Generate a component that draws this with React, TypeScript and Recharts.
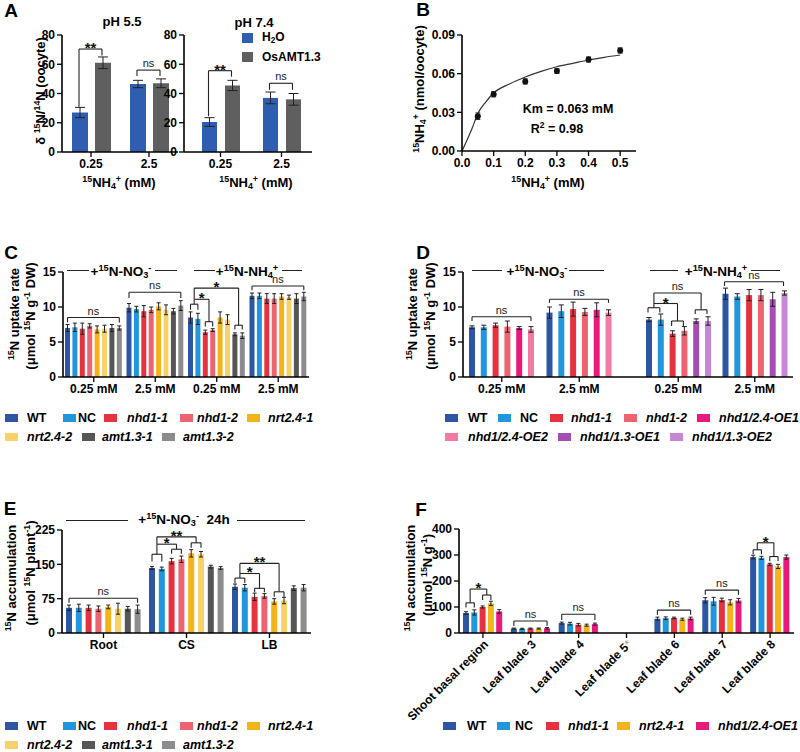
import React from 'react';
import { BarChart, Bar, XAxis, YAxis, ErrorBar, ReferenceLine, ComposedChart, Line, Scatter } from 'recharts';

const FONT = '"Liberation Sans", Arial, Helvetica, sans-serif';

// ---------------- Data ----------------
// Panel A
const aCategories = ['0.25', '2.5'];
const aSeries = ['H2O', 'OsAMT1.3'];
const aMeans55 = [[27, 46.5], [61, 47]];
const aErrs55 = [[3.5, 2.5], [4, 3]];
const aMeans74 = [[20.5, 37], [45.5, 36]];
const aErrs74 = [[3, 4], [3.5, 4]];
const aYTicks = [0, 20, 40, 60, 80];

// Panel B
const bConc = [0.05, 0.1, 0.2, 0.3, 0.4, 0.5];
const bUptake = [0.027, 0.044, 0.054, 0.062, 0.071, 0.078];
const bErr = [0.0025, 0.002, 0.002, 0.0018, 0.002, 0.002];
const bFitX = [0, 0.016, 0.032, 0.05, 0.075, 0.1, 0.15, 0.2, 0.25, 0.3, 0.35, 0.4, 0.45, 0.5];
const bFitY = [0, 0.0085, 0.0176, 0.029, 0.038, 0.045, 0.052, 0.0574, 0.0618, 0.0654, 0.068, 0.0706, 0.0727, 0.0745];
const bXTicks = [0, 0.1, 0.2, 0.3, 0.4, 0.5];
const bYTicks = [0, 0.03, 0.06, 0.09];

// Panel C
const cKeys = ['no3-0.25', 'no3-2.5', 'nh4-0.25', 'nh4-2.5'];
const cLabels = ['0.25 mM', '2.5 mM', '0.25 mM', '2.5 mM'];
const cGeno = ['WT', 'NC', 'nhd1-1', 'nhd1-2', 'nrt2.4-1', 'nrt2.4-2', 'amt1.3-1', 'amt1.3-2'];
const cMeans = [
  [7.0, 9.9, 8.5, 11.6],
  [7.1, 9.7, 8.3, 11.6],
  [6.9, 9.4, 6.4, 11.2],
  [7.3, 9.6, 6.7, 11.2],
  [6.8, 10.1, 8.5, 11.5],
  [6.9, 9.6, 8.2, 11.4],
  [7.0, 9.4, 6.1, 11.2],
  [7.0, 10.2, 5.9, 11.5],
];
const cErrs = [
  [0.5, 0.6, 0.8, 0.4],
  [0.6, 0.4, 0.8, 0.4],
  [0.8, 0.8, 0.3, 0.7],
  [0.3, 0.4, 0.2, 0.7],
  [0.5, 0.5, 0.8, 0.4],
  [0.5, 0.7, 0.7, 0.3],
  [0.5, 0.4, 0.2, 0.7],
  [0.3, 0.7, 0.4, 0.6],
];
const uptakeTicks = [0, 5, 10, 15];

// Panel D
const dNO3Keys = ['no3-0.25', 'no3-2.5'];
const dNH4Keys = ['nh4-0.25', 'nh4-2.5'];
const dLabels = ['0.25 mM', '2.5 mM'];
const dNO3Geno = ['WT', 'NC', 'nhd1-1', 'nhd1-2', 'nhd1/2.4-OE1', 'nhd1/2.4-OE2'];
const dNO3Means = [[7.1, 9.2], [7.1, 9.4], [7.4, 9.7], [7.2, 9.3], [7.0, 9.6], [6.8, 9.2]];
const dNO3Errs = [[0.2, 0.8], [0.3, 0.9], [0.3, 1.0], [0.8, 0.5], [0.2, 1.0], [0.4, 0.4]];
const dNH4Geno = ['WT', 'NC', 'nhd1-1', 'nhd1-2', 'nhd1/1.3-OE1', 'nhd1/1.3-OE2'];
const dNH4Means = [[8.2, 11.9], [8.2, 11.5], [6.2, 11.7], [6.6, 11.7], [8.0, 11.1], [8.0, 12.0]];
const dNH4Errs = [[0.3, 0.8], [0.8, 0.4], [0.4, 0.8], [0.6, 0.8], [0.3, 1.0], [0.6, 0.3]];

// Panel E
const eCategories = ['Root', 'CS', 'LB'];
const eMeans = [
  [55, 142, 101],
  [55, 140, 99],
  [55, 157, 79],
  [53, 161, 81],
  [57, 174, 69],
  [53, 172, 71],
  [53, 145, 98],
  [52, 142, 99],
];
const eErrs = [
  [6, 3, 6],
  [8, 4, 7],
  [6, 6, 8],
  [6, 7, 5],
  [4, 8, 6],
  [12, 6, 7],
  [5, 3, 5],
  [9, 3, 7],
];
const eTicks = [0, 75, 150, 225];

// Panel F
const fCategories = ['Shoot basal region', 'Leaf blade 3', 'Leaf blade 4', 'Leaf blade 5*', 'Leaf blade 6', 'Leaf blade 7', 'Leaf blade 8'];
const fGeno = ['WT', 'NC', 'nhd1-1', 'nrt2.4-1', 'nhd1/2.4-OE1'];
const fMeans = [
  [77, 17, 38, null, 55, 126, 292],
  [79, 16, 36, null, 57, 122, 289],
  [100, 17, 32, null, 58, 127, 264],
  [114, 17, 30, null, 53, 118, 256],
  [83, 18, 34, null, 56, 125, 292],
];
const fErrs = [
  [5, 2, 4, null, 6, 10, 7],
  [10, 2, 5, null, 5, 15, 6],
  [4, 2, 5, null, 3, 7, 4],
  [8, 2, 4, null, 4, 10, 8],
  [7, 3, 4, null, 5, 8, 8],
];
const fTicks = [0, 100, 200, 300, 400];

// Significance brackets: group, bar a -> bar b, height, left/right drop ends
type Br = { g: number; a: number; b: number; y: number; yl: number; yr: number; t?: string };
const aBr55: Br[] = [
  { g: 0, a: 0, b: 1, y: 70.4, yl: 31, yr: 66, t: '**' },
  { g: 1, a: 0, b: 1, y: 56, yl: 52, yr: 52, t: 'ns' },
];
const aBr74: Br[] = [
  { g: 0, a: 0, b: 1, y: 55.6, yl: 24.5, yr: 51.5, t: '**' },
  { g: 1, a: 0, b: 1, y: 47, yl: 42.5, yr: 42.5, t: 'ns' },
];
const cBr: Br[] = [
  { g: 0, a: 0, b: 7, y: 8.5, yl: 7.8, yr: 7.8, t: 'ns' },
  { g: 1, a: 0, b: 7, y: 12.1, yl: 11.3, yr: 11.3, t: 'ns' },
  { g: 2, a: 0, b: 1, y: 10.4, yl: 9.6, yr: 9.6 },
  { g: 2, a: 2, b: 3, y: 7.9, yl: 7.2, yr: 7.2 },
  { g: 2, a: 6, b: 7, y: 7.4, yl: 6.8, yr: 6.8 },
  { g: 2, a: 0.5, b: 2.5, y: 11.1, yl: 10.4, yr: 7.9, t: '*' },
  { g: 2, a: 0.5, b: 6.5, y: 12.7, yl: 11.1, yr: 7.4, t: '*' },
  { g: 3, a: 0, b: 7, y: 13.0, yl: 12.4, yr: 12.4, t: 'ns' },
];
const dBrL: Br[] = [
  { g: 0, a: 0, b: 5, y: 8.6, yl: 8.0, yr: 8.0, t: 'ns' },
  { g: 1, a: 0, b: 5, y: 11.1, yl: 10.6, yr: 10.6, t: 'ns' },
];
const dBrR: Br[] = [
  { g: 0, a: 0, b: 1, y: 9.9, yl: 9.2, yr: 9.2 },
  { g: 0, a: 2, b: 3, y: 8.0, yl: 7.3, yr: 7.3 },
  { g: 0, a: 4, b: 5, y: 9.6, yl: 9.0, yr: 9.0 },
  { g: 0, a: 0.5, b: 2.5, y: 10.5, yl: 9.9, yr: 8.0, t: '*' },
  { g: 0, a: 0.5, b: 4.5, y: 12.0, yl: 10.5, yr: 9.6, t: 'ns' },
  { g: 1, a: 0, b: 5, y: 13.6, yl: 13.0, yr: 13.0, t: 'ns' },
];
const eBr: Br[] = [
  { g: 0, a: 0, b: 7, y: 76, yl: 66, yr: 66, t: 'ns' },
  { g: 1, a: 0, b: 1, y: 172, yl: 156, yr: 156 },
  { g: 1, a: 2, b: 3, y: 183, yl: 173, yr: 173 },
  { g: 1, a: 4, b: 5, y: 197, yl: 186, yr: 186 },
  { g: 1, a: 0.5, b: 2.5, y: 194, yl: 172, yr: 183, t: '*' },
  { g: 1, a: 0.5, b: 4.5, y: 210, yl: 194, yr: 197, t: '**' },
  { g: 2, a: 0, b: 1, y: 120, yl: 109, yr: 109 },
  { g: 2, a: 2, b: 3, y: 97.6, yl: 89, yr: 89 },
  { g: 2, a: 4, b: 5, y: 90, yl: 79, yr: 79 },
  { g: 2, a: 0.5, b: 2.5, y: 130, yl: 120, yr: 97.6, t: '*' },
  { g: 2, a: 0.5, b: 4.5, y: 152, yl: 130, yr: 90, t: '**' },
];
const fBr: Br[] = [
  { g: 0, a: 0, b: 1, y: 116, yl: 98, yr: 98 },
  { g: 0, a: 2, b: 3, y: 146, yl: 127, yr: 127 },
  { g: 0, a: 0.5, b: 2.5, y: 169, yl: 116, yr: 146, t: '*' },
  { g: 1, a: 0, b: 4, y: 46, yl: 27, yr: 27, t: 'ns' },
  { g: 2, a: 0, b: 4, y: 72, yl: 50, yr: 50, t: 'ns' },
  { g: 4, a: 0, b: 4, y: 88, yl: 70, yr: 70, t: 'ns' },
  { g: 5, a: 0, b: 4, y: 165, yl: 147, yr: 147, t: 'ns' },
  { g: 6, a: 0, b: 1, y: 320, yl: 303, yr: 303 },
  { g: 6, a: 2, b: 3, y: 294, yl: 276, yr: 276 },
  { g: 6, a: 0.5, b: 2.5, y: 347, yl: 320, yr: 294, t: '*' },
];

// ---------------- Styles ----------------
const COLORS: Record<string, string> = {
  H2O: '#2f5db0',
  'OsAMT1.3': '#5f5f5f',
  WT: '#2c55a3',
  NC: '#2196dc',
  'nhd1-1': '#e6323e',
  'nhd1-2': '#ec6470',
  'nrt2.4-1': '#f5b31a',
  'nrt2.4-2': '#f8d169',
  'amt1.3-1': '#565656',
  'amt1.3-2': '#8c8c8c',
  'nhd1/2.4-OE1': '#e8197d',
  'nhd1/2.4-OE2': '#f37ba1',
  'nhd1/1.3-OE1': '#a44eb4',
  'nhd1/1.3-OE2': '#c787d3',
};

function buildRows(keys: string[], means: (number | null)[][], errs: (number | null)[][]) {
  return keys.map((k, gi) => {
    const r: Record<string, any> = { cat: k };
    means.forEach((m, si) => {
      r['v' + si] = m[gi];
      r['e' + si] = errs[si][gi];
    });
    return r;
  });
}

type Lay = { plotW: number; padL: number; nG: number; nB: number; bs: number; gap: number };
function bx(L: Lay, g: number, i: number) {
  const bandW = (L.plotW - L.padL) / L.nG;
  const sum = L.nB * L.bs + (L.nB - 1) * L.gap;
  const off = Math.floor((bandW - sum) / 2);
  return L.padL + bandW * g + off + (L.bs + L.gap) * i + L.bs / 2;
}

const SigLabel = (props: any) => {
  const vb = props.viewBox || { x: 0, y: 0, width: 0 };
  const t: string = props.t;
  const ns = t === 'ns';
  return (
    <text
      x={vb.x + (vb.width || 0) / 2}
      y={vb.y + (ns ? -3 : 4)}
      textAnchor="middle"
      fontSize={ns ? 11 : 15}
      fontWeight={ns ? 'normal' : 'bold'}
      fill={ns ? '#222' : '#111'}
      fontFamily={FONT}
    >
      {t}
    </text>
  );
};

function renderBrackets(L: Lay, list: Br[], id: string) {
  const els: any[] = [];
  list.forEach((b, k) => {
    const x1 = bx(L, b.g, b.a);
    const x2 = bx(L, b.g, b.b);
    const common: any = { xAxisId: 'n', stroke: '#222', strokeWidth: 1.1, ifOverflow: 'visible' };
    els.push(
      <ReferenceLine key={`${id}h${k}`} {...common} segment={[{ x: x1, y: b.y }, { x: x2, y: b.y }]}
        label={b.t ? <SigLabel t={b.t} /> : undefined} />
    );
    els.push(<ReferenceLine key={`${id}l${k}`} {...common} segment={[{ x: x1, y: b.y }, { x: x1, y: b.yl }]} />);
    els.push(<ReferenceLine key={`${id}r${k}`} {...common} segment={[{ x: x2, y: b.y }, { x: x2, y: b.yr }]} />);
  });
  return els;
}

const tickStyle = { fontSize: 12, fontWeight: 'bold', fill: '#000', fontFamily: FONT };

function BarPanel(p: any) {
  const yW = p.hideY ? 0 : p.yWidth;
  const plotW = p.width - p.margin.left - p.margin.right - yW;
  const padL = p.padL || 0;
  const L: Lay = { plotW, padL, nG: p.rows.length, nB: p.names.length, bs: p.bs, gap: p.gap };
  return (
    <div style={{ position: 'absolute', left: p.left, top: p.top }}>
      <BarChart width={p.width} height={p.height} data={p.rows} margin={p.margin} barGap={p.gap} barCategoryGap={0}>
        <XAxis
          dataKey="cat"
          xAxisId={0}
          type="category"
          height={p.xHeight}
          interval={0}
          padding={{ left: padL, right: 0 }}
          tickSize={5}
          tickLine={{ stroke: '#000', strokeWidth: 1.3 }}
          axisLine={{ stroke: '#000', strokeWidth: 1.6 }}
          tick={p.tick || tickStyle}
          tickFormatter={p.tickFmt}
        />
        <XAxis xAxisId="n" dataKey="bx" type="number" domain={[0, plotW]} hide allowDataOverflow />
        <YAxis
          hide={!!p.hideY}
          width={p.yWidth}
          type="number"
          domain={p.yDomain}
          ticks={p.yTicks}
          interval={0}
          allowDataOverflow
          tickSize={5}
          tickLine={{ stroke: '#000', strokeWidth: 1.3 }}
          axisLine={{ stroke: '#000', strokeWidth: 1.6 }}
          tick={tickStyle}
        />
        {p.names.map((n: string, si: number) => (
          <Bar key={n} dataKey={'v' + si} fill={COLORS[n]} barSize={p.bs} isAnimationActive={false}>
            <ErrorBar dataKey={'e' + si} width={p.errW} stroke="#222" strokeWidth={1} direction="y" />
          </Bar>
        ))}
        {renderBrackets(L, p.brackets, p.id)}
      </BarChart>
    </div>
  );
}

// ---------------- Text helpers ----------------
const Sup = ({ c }: { c: string }) => <span style={{ fontSize: '0.68em', verticalAlign: '0.55em' }}>{c}</span>;
const Sub = ({ c }: { c: string }) => <span style={{ fontSize: '0.68em', verticalAlign: '-0.3em' }}>{c}</span>;

function T(p: { x: number; y: number; size?: number; weight?: any; italic?: boolean; rot?: boolean; left?: boolean; color?: string; children: any }) {
  const tr = (p.left ? 'translate(0,-50%)' : 'translate(-50%,-50%)') + (p.rot ? ' rotate(-90deg)' : '');
  return (
    <div
      style={{
        position: 'absolute',
        left: p.x,
        top: p.y,
        transform: tr,
        fontSize: p.size || 13,
        fontWeight: p.weight || 'bold',
        fontStyle: p.italic ? 'italic' : 'normal',
        lineHeight: 1,
        whiteSpace: 'nowrap',
        color: p.color || '#000',
        fontFamily: FONT,
      }}
    >
      {p.children}
    </div>
  );
}

const HLine = ({ x1, x2, y }: { x1: number; x2: number; y: number }) => (
  <div style={{ position: 'absolute', left: x1, top: y, width: x2 - x1, height: 1.2, background: '#222' }} />
);

function LegItem({ name, sx, tx, y, w = 13, h = 8, size = 12.5 }: { name: string; sx: number; tx: number; y: number; w?: number; h?: number; size?: number }) {
  const italic = !(name === 'WT' || name === 'NC');
  return (
    <>
      <div style={{ position: 'absolute', left: sx, top: y - h / 2, width: w, height: h, background: COLORS[name] }} />
      <T x={tx} y={y} left italic={italic} size={size}>
        {name}
      </T>
    </>
  );
}

const NO3 = () => (
  <>
    +<Sup c="15" />N-NO<Sub c="3" />
    <Sup c="-" />
  </>
);
const NH4 = () => (
  <>
    +<Sup c="15" />N-NH<Sub c="4" />
    <Sup c="+" />
  </>
);
const NH4mM = () => (
  <>
    <Sup c="15" />NH<Sub c="4" />
    <Sup c="+" /> (mM)
  </>
);

const FTick = (props: any) => {
  const { x, y, payload } = props;
  const v: string = String(payload.value);
  const star = v.endsWith('*');
  const main = star ? v.slice(0, -1) : v;
  return (
    <g transform={`translate(${x + 3},${y + 2})`}>
      <text x={0} y={0} dy="0.35em" textAnchor="end" transform="rotate(-45)" fontSize={12} fontWeight="bold" fill="#000" fontFamily={FONT}>
        {main}
        {star ? <tspan fill="#999" fontWeight="normal">*</tspan> : null}
      </text>
    </g>
  );
};

const dotShape = (props: any) => <circle cx={props.cx} cy={props.cy} r={3} fill="#111" />;

export default function App() {
  const aRows55 = buildRows(aCategories, aMeans55, aErrs55);
  const aRows74 = buildRows(aCategories, aMeans74, aErrs74);
  const cRows = buildRows(cKeys, cMeans, cErrs);
  const dRowsL = buildRows(dNO3Keys, dNO3Means, dNO3Errs);
  const dRowsR = buildRows(dNH4Keys, dNH4Means, dNH4Errs);
  const eRows = buildRows(eCategories, eMeans, eErrs);
  const fRows = buildRows(fCategories, fMeans, fErrs);
  const bPts = bConc.map((x, i) => ({ x, y: bUptake[i], e: bErr[i] }));
  const bFit = bFitX.map((x, i) => ({ x, y: bFitY[i] }));
  const cFmt = (v: string) => cLabels[cKeys.indexOf(v)] ?? v;
  const dFmtL = (v: string) => dLabels[dNO3Keys.indexOf(v)] ?? v;
  const dFmtR = (v: string) => dLabels[dNH4Keys.indexOf(v)] ?? v;

  return (
    <div style={{ position: 'absolute', left: 0, top: 0, width: 800, height: 752, background: '#fff', overflow: 'hidden', fontFamily: FONT }}>
      {/* ---------- A ---------- */}
      <T x={11} y={10} size={19}>A</T>
      <T x={122} y={21}>pH 5.5</T>
      <T x={254} y={22}>pH 7.4</T>
      <BarPanel id="a55" left={0} top={0} width={183} height={200} margin={{ top: 35, right: 5, left: 0, bottom: 18 }}
        yWidth={62} xHeight={30} rows={aRows55} names={aSeries} yDomain={[0, 80]} yTicks={aYTicks} bs={16} gap={7} errW={5} brackets={aBr55} />
      <BarPanel id="a74" left={122} top={0} width={195} height={200} margin={{ top: 35, right: 5, left: 0, bottom: 18 }}
        yWidth={62} xHeight={30} padL={6} rows={aRows74} names={aSeries} yDomain={[0, 80]} yTicks={aYTicks} bs={15} gap={8} errW={5} brackets={aBr74} />
      <div style={{ position: 'absolute', left: 242, top: 33, width: 11, height: 10, background: COLORS.H2O }} />
      <T x={262} y={38} left size={12}>H<Sub c="2" />O</T>
      <div style={{ position: 'absolute', left: 242, top: 52, width: 11, height: 10, background: COLORS['OsAMT1.3'] }} />
      <T x={262} y={57} left size={12}>OsAMT1.3</T>
      <T x={40} y={91} rot size={13}>δ <Sup c="15" />N/<Sup c="14" />N (oocyte)</T>
      <T x={119} y={183}><NH4mM /></T>
      <T x={256} y={183}><NH4mM /></T>

      {/* ---------- B ---------- */}
      <T x={423} y={9} size={19}>B</T>
      <div style={{ position: 'absolute', left: 400, top: 0 }}>
        <ComposedChart width={245} height={200} margin={{ top: 35, right: 9, left: 0, bottom: 19 }}>
          <XAxis dataKey="x" type="number" domain={[0, 0.55]} ticks={bXTicks} interval={0} allowDataOverflow height={30}
            tickFormatter={(v: number) => v.toFixed(1)} tickSize={5} tickLine={{ stroke: '#000', strokeWidth: 1.3 }}
            axisLine={{ stroke: '#000', strokeWidth: 1.6 }} tick={tickStyle} />
          <YAxis type="number" domain={[0, 0.09]} ticks={bYTicks} interval={0} allowDataOverflow width={62}
            tickFormatter={(v: number) => v.toFixed(2)} tickSize={5} tickLine={{ stroke: '#000', strokeWidth: 1.3 }}
            axisLine={{ stroke: '#000', strokeWidth: 1.6 }} tick={tickStyle} />
          <Line data={bFit} dataKey="y" type="monotone" stroke="#333" strokeWidth={1.2} dot={false} isAnimationActive={false} />
          <Scatter data={bPts} dataKey="y" fill="#111" shape={dotShape} isAnimationActive={false}>
            <ErrorBar dataKey="e" width={2.5} stroke="#222" strokeWidth={1} direction="y" />
          </Scatter>
        </ComposedChart>
      </div>
      <T x={420} y={89} rot size={13}><Sup c="15" />NH<Sub c="4" /><Sup c="+" /> (nmol/oocyte)</T>
      <T x={568} y={109} size={12.5}>Km = 0.063 mM</T>
      <T x={557} y={128} size={12.5}>R<Sup c="2" /> = 0.98</T>
      <T x={548} y={183}><NH4mM /></T>

      {/* ---------- C ---------- */}
      <T x={11} y={252} size={19}>C</T>
      <HLine x1={67} x2={89} y={270} />
      <HLine x1={155} x2={177} y={270} />
      <T x={121} y={272} size={13.5}><NO3 /></T>
      <HLine x1={194} x2={215} y={270} />
      <HLine x1={282} x2={302} y={270} />
      <T x={247} y={272} size={13.5}><NH4 /></T>
      <BarPanel id="c" left={0} top={260} width={315} height={145} margin={{ top: 12, right: 6, left: 0, bottom: 3 }}
        yWidth={63} xHeight={25} rows={cRows} names={cGeno} yDomain={[0, 15]} yTicks={uptakeTicks} bs={5} gap={2.4} errW={2}
        brackets={cBr} tickFmt={cFmt} />
      <T x={13.5} y={314} rot><Sup c="15" />N uptake rate</T>
      <T x={30} y={316} rot>(μmol <Sup c="15" />N g<Sup c="-1" /> DW)</T>
      <LegItem name="WT" sx={5} tx={27} y={418} />
      <LegItem name="NC" sx={63} tx={78} y={418} />
      <LegItem name="nhd1-1" sx={104} tx={127} y={418} />
      <LegItem name="nhd1-2" sx={180} tx={197} y={418} />
      <LegItem name="nrt2.4-1" sx={247} tx={268} y={418} />
      <LegItem name="nrt2.4-2" sx={5} tx={27} y={437} />
      <LegItem name="amt1.3-1" sx={82} tx={102} y={437} />
      <LegItem name="amt1.3-2" sx={162} tx={183} y={437} />

      {/* ---------- D ---------- */}
      <T x={423} y={252} size={19}>D</T>
      <HLine x1={472} x2={502} y={270} />
      <HLine x1={569} x2={604} y={270} />
      <T x={537} y={272} size={13.5}><NO3 /></T>
      <HLine x1={650} x2={678} y={270} />
      <HLine x1={751} x2={780} y={270} />
      <T x={716} y={272} size={13.5}><NH4 /></T>
      <BarPanel id="dl" left={400} top={260} width={218} height={145} margin={{ top: 12, right: 0, left: 0, bottom: 3 }}
        yWidth={63} xHeight={25} rows={dRowsL} names={dNO3Geno} yDomain={[0, 15]} yTicks={uptakeTicks} bs={6} gap={5.8} errW={2.5}
        brackets={dBrL} tickFmt={dFmtL} />
      <BarPanel id="dr" left={618} top={260} width={180} height={145} margin={{ top: 12, right: 5, left: 0, bottom: 3 }}
        hideY yWidth={0} xHeight={25} padL={22} rows={dRowsR} names={dNH4Geno} yDomain={[0, 15]} yTicks={uptakeTicks} bs={6} gap={5.8} errW={2.5}
        brackets={dBrR} tickFmt={dFmtR} />
      <T x={412} y={314} rot><Sup c="15" />N uptake rate</T>
      <T x={430} y={316} rot>(μmol <Sup c="15" />N g<Sup c="-1" /> DW)</T>
      <LegItem name="WT" sx={445} tx={468} y={418} />
      <LegItem name="NC" sx={498} tx={520} y={418} />
      <LegItem name="nhd1-1" sx={550} tx={571} y={418} />
      <LegItem name="nhd1-2" sx={624} tx={646} y={418} />
      <LegItem name="nhd1/2.4-OE1" sx={697} tx={719} y={418} />
      <LegItem name="nhd1/2.4-OE2" sx={445} tx={468} y={437} />
      <LegItem name="nhd1/1.3-OE1" sx={558} tx={580} y={437} />
      <LegItem name="nhd1/1.3-OE2" sx={670} tx={692} y={437} />

      {/* ---------- E ---------- */}
      <T x={10} y={508} size={19}>E</T>
      <HLine x1={66} x2={128} y={520} />
      <HLine x1={237} x2={305} y={520} />
      <T x={184} y={519.5} size={13.5}><NO3 />&nbsp;&nbsp;24h</T>
      <BarPanel id="e" left={0} top={515} width={316} height={145} margin={{ top: 15, right: 5, left: 0, bottom: 2 }}
        yWidth={62} xHeight={25} rows={eRows} names={cGeno} yDomain={[0, 225]} yTicks={eTicks} bs={6} gap={3.8} errW={2}
        brackets={eBr} />
      <T x={11} y={578} rot><Sup c="15" />N accumulation</T>
      <T x={30} y={573} rot>(μmol <Sup c="15" />N plant<Sup c="-1" />)</T>
      <LegItem name="WT" sx={5} tx={27} y={726} />
      <LegItem name="NC" sx={63} tx={78} y={726} />
      <LegItem name="nhd1-1" sx={104} tx={127} y={726} />
      <LegItem name="nhd1-2" sx={180} tx={197} y={726} />
      <LegItem name="nrt2.4-1" sx={247} tx={268} y={726} />
      <LegItem name="nrt2.4-2" sx={5} tx={27} y={745} />
      <LegItem name="amt1.3-1" sx={82} tx={102} y={745} />
      <LegItem name="amt1.3-2" sx={162} tx={183} y={745} />

      {/* ---------- F ---------- */}
      <T x={421} y={509} size={19}>F</T>
      <BarPanel id="f" left={400} top={515} width={400} height={215} margin={{ top: 14, right: 6, left: 0, bottom: 2 }}
        yWidth={59} xHeight={95} rows={fRows} names={fGeno} yDomain={[0, 400]} yTicks={fTicks} bs={6} gap={2.3} errW={2}
        brackets={fBr} tick={<FTick />} />
      <T x={410} y={578} rot><Sup c="15" />N accumulation</T>
      <T x={427} y={575} rot>(μmol <Sup c="15" />N g<Sup c="-1" />)</T>
      <LegItem name="WT" sx={443} tx={467} y={726} />
      <LegItem name="NC" sx={497} tx={515} y={726} />
      <LegItem name="nhd1-1" sx={546} tx={568} y={726} />
      <LegItem name="nrt2.4-1" sx={617} tx={639} y={726} />
      <LegItem name="nhd1/2.4-OE1" sx={696} tx={718} y={726} />
    </div>
  );
}
